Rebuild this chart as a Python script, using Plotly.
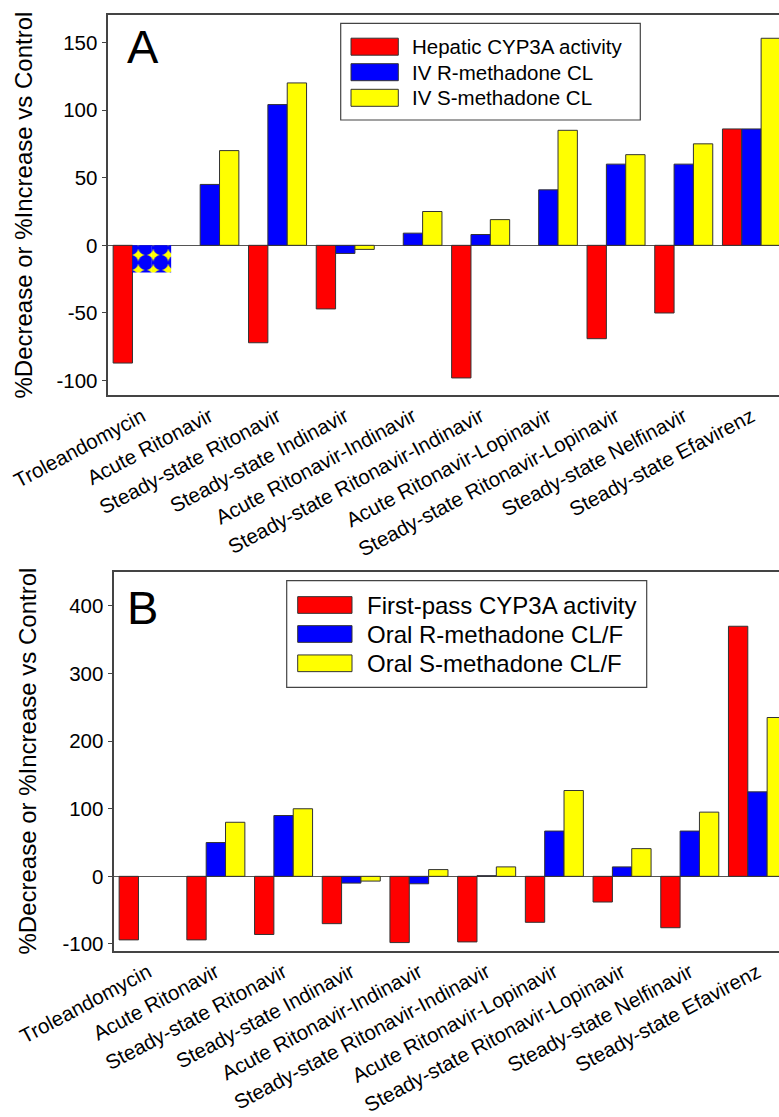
import plotly.graph_objects as go
from plotly.subplots import make_subplots

# Interventions along the x axis (shared by both panels)
categories = [
    "Troleandomycin",
    "Acute Ritonavir",
    "Steady-state Ritonavir",
    "Steady-state Indinavir",
    "Acute Ritonavir-Indinavir",
    "Steady-state Ritonavir-Indinavir",
    "Acute Ritonavir-Lopinavir",
    "Steady-state Ritonavir-Lopinavir",
    "Steady-state Nelfinavir",
    "Steady-state Efavirenz",
]

# Panel A: hepatic CYP3A activity and IV methadone clearance (% change vs control)
names_a = ["Hepatic CYP3A activity", "IV R-methadone CL", "IV S-methadone CL"]
hepatic_cyp3a = [-87, None, -72, -47, None, -98, None, -69, -50, 86]
iv_r_cl = [-20, 45, 104, -6, 9, 8, 41, 60, 60, 86]
iv_s_cl = [-20, 70, 120, -3, 25, 19, 85, 67, 75, 153]
ticks_a = [-100, -50, 0, 50, 100, 150]

# Panel B: first-pass CYP3A activity and oral methadone clearance (% change vs control)
names_b = ["First-pass CYP3A activity", "Oral R-methadone CL/F", "Oral S-methadone CL/F"]
first_pass_cyp3a = [-94, -94, -86, -70, -98, -97, -68, -38, -76, 370]
oral_r_clf = [None, 50, 90, -10, -11, 1, 67, 14, 67, 125]
oral_s_clf = [None, 80, 100, -7, 10, 14, 127, 41, 95, 235]
ticks_b = [-100, 0, 100, 200, 300, 400]

colors = ["#FF0000", "#0000FF", "#FFFF00"]
FONT = "Liberation Sans, Arial, sans-serif"
W, H = 779, 1117
AXIS_COLOR = "#444444"


def px_x(x):
    return x / W


def px_y(y):
    return 1 - y / H


fig = make_subplots(rows=2, cols=1)

# Troleandomycin: R and S enantiomers reported together as one patterned bar
combined_shape = ["."] + [""] * (len(categories) - 1)
combined_line = [0] + [1] * (len(categories) - 1)

series_a = [hepatic_cyp3a, iv_r_cl, iv_s_cl]
for i, (name, vals) in enumerate(zip(names_a, series_a)):
    marker = dict(color=colors[i], line=dict(color="#333333", width=1))
    if i > 0:
        marker["pattern"] = dict(shape=combined_shape, fgcolor="#0000FF",
                                 bgcolor="#FFFF00", size=15, solidity=0.79,
                                 fillmode="replace")
        marker["line"] = dict(color="#333333", width=combined_line)
    fig.add_trace(go.Bar(x=categories, y=vals, name=name, marker=marker,
                         showlegend=False), row=1, col=1)

series_b = [first_pass_cyp3a, oral_r_clf, oral_s_clf]
for i, (name, vals) in enumerate(zip(names_b, series_b)):
    fig.add_trace(go.Bar(x=categories, y=vals, name=name,
                         marker=dict(color=colors[i], line=dict(color="#333333", width=1)),
                         showlegend=False), row=2, col=1)

xaxis_common = dict(
    type="category", showline=True, mirror=True, linecolor=AXIS_COLOR, linewidth=1.5,
    ticks="", tickangle=-28, showgrid=False, zeroline=False, automargin=False,
    tickfont=dict(family=FONT, size=20.5, color="black"),
)
yaxis_common = dict(
    showline=True, linecolor=AXIS_COLOR, linewidth=1.5, ticks="outside", ticklen=5,
    tickwidth=1.2, tickcolor=AXIS_COLOR, showgrid=False, zeroline=True,
    zerolinecolor="#555555", zerolinewidth=1.2, automargin=False,
    tickfont=dict(family=FONT, size=20.5, color="black"),
)

fig.update_layout(
    template="none",
    width=W, height=H,
    margin=dict(l=0, r=0, t=0, b=0, autoexpand=False),
    paper_bgcolor="white", plot_bgcolor="white",
    barmode="group", bargap=0.143, bargroupgap=0,
    font=dict(family=FONT, color="black"),
    xaxis=dict(xaxis_common, domain=[px_x(108.3), 1], range=[-0.5, 9.407]),
    yaxis=dict(yaxis_common, domain=[px_y(395), px_y(15)], range=[-110.6, 170.2],
               tickvals=ticks_a, ticktext=[str(v) for v in ticks_a]),
    xaxis2=dict(xaxis_common, domain=[px_x(114.3), 1], range=[-0.5, 9.318]),
    yaxis2=dict(yaxis_common, domain=[px_y(950.7), px_y(571.7)], range=[-110, 450.7],
                tickvals=ticks_b, ticktext=[str(v) for v in ticks_b]),
)

ytitle = "%Decrease or %Increase vs Control"
annotations = [
    dict(text=ytitle, x=px_x(23.5), y=px_y(205), xref="paper", yref="paper",
         textangle=-90, showarrow=False, xanchor="center", yanchor="middle",
         font=dict(family=FONT, size=24, color="black")),
    dict(text=ytitle, x=px_x(26.5), y=px_y(761), xref="paper", yref="paper",
         textangle=-90, showarrow=False, xanchor="center", yanchor="middle",
         font=dict(family=FONT, size=24, color="black")),
    dict(text="A", x=px_x(125), y=px_y(47), xref="paper", yref="paper",
         showarrow=False, xanchor="left", yanchor="middle",
         font=dict(family=FONT, size=47, color="black")),
    dict(text="B", x=px_x(124.5), y=px_y(607.5), xref="paper", yref="paper",
         showarrow=False, xanchor="left", yanchor="middle",
         font=dict(family=FONT, size=47, color="black")),
]
shapes = []


def add_legend(names, box, sw_x, rows, sw_h, text_x, font_size):
    x0, x1, y0, y1 = box
    shapes.append(dict(type="rect", xref="paper", yref="paper",
                       x0=px_x(x0), x1=px_x(x1), y0=px_y(y1), y1=px_y(y0),
                       line=dict(color=AXIS_COLOR, width=1.2), fillcolor="white"))
    for name, color, yc in zip(names, colors, rows):
        shapes.append(dict(type="rect", xref="paper", yref="paper",
                           x0=px_x(sw_x[0]), x1=px_x(sw_x[1]),
                           y0=px_y(yc + sw_h / 2), y1=px_y(yc - sw_h / 2),
                           line=dict(color="#333333", width=1), fillcolor=color))
        annotations.append(dict(text=name, x=px_x(text_x), y=px_y(yc),
                                xref="paper", yref="paper", showarrow=False,
                                xanchor="left", yanchor="middle",
                                font=dict(family=FONT, size=font_size, color="black")))


add_legend(names_a, (340.7, 640.3, 23.3, 120), (351, 398.3), [46.7, 72.2, 97.8], 17, 409.5, 20.5)
add_legend(names_b, (286.7, 646.7, 580.7, 687.3), (297.7, 352), [605, 634, 663.3], 16.7, 364.5, 24)

fig.update_layout(annotations=annotations, shapes=shapes)

fig.write_html("out.html")
